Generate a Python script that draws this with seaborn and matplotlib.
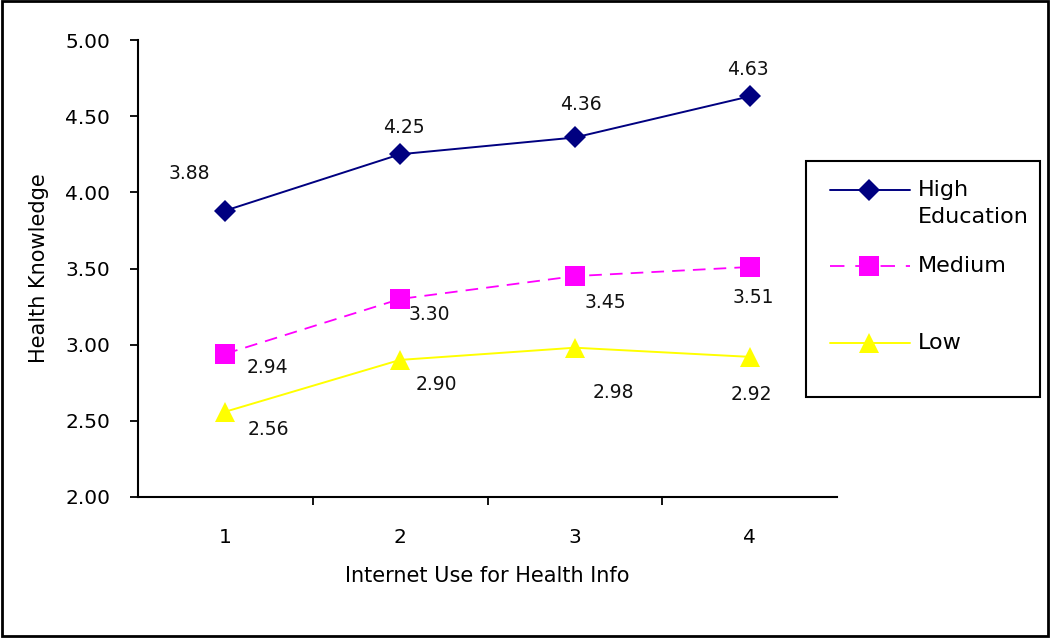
import matplotlib
matplotlib.use("Agg")
import matplotlib.pyplot as plt
import seaborn as sns
import pandas as pd
from matplotlib.lines import Line2D
from matplotlib.patches import Rectangle

categories = ["1", "2", "3", "4"]
high = [3.88, 4.25, 4.36, 4.63]
medium = [2.94, 3.30, 3.45, 3.51]
low = [2.56, 2.90, 2.98, 2.92]
series_names = ["High\nEducation", "Medium", "Low"]
y_ticks = [2.00, 2.50, 3.00, 3.50, 4.00, 4.50, 5.00]

sns.set_theme(style="white")
plt.rcParams['font.family'] = ['DejaVu Sans']
plt.rcParams['text.color'] = 'black'
plt.rcParams['axes.labelcolor'] = 'black'
plt.rcParams['xtick.color'] = 'black'
plt.rcParams['ytick.color'] = 'black'

fig = plt.figure(figsize=(10.5, 6.39), dpi=100)
ax = fig.add_axes([138/1050, (639-497)/639, (837-138)/1050, (497-40)/639])

rows = []
for name, vals in zip(series_names, [high, medium, low]):
    for i, v in enumerate(vals):
        rows.append({"series": name, "x": i, "y": v})
df = pd.DataFrame(rows)

styles = {
    "High\nEducation": dict(color="#000080", marker="D", ms=11, dashes=None, lw=1.4),
    "Medium": dict(color="#FF00FF", marker="s", ms=14, dashes=(7, 4.5), lw=1.3),
    "Low": dict(color="#FFFF00", marker="^", ms=15, dashes=None, lw=1.4),
}
for name in series_names:
    st = styles[name]
    sub = df[df["series"] == name]
    sns.lineplot(data=sub, x="x", y="y", ax=ax, color=st["color"], marker=st["marker"],
                 markersize=st["ms"], markeredgewidth=0, linewidth=st["lw"], legend=False)
    if st["dashes"]:
        ax.lines[-1].set_dashes(st["dashes"])

# data labels (offsets in points)
off_high = [(-26, 27), (3, 19), (4, 24), (-1, 19)]
off_med = [(30, -10), (21, -11), (22, -19), (3, -22)]
off_low = [(31, -13), (26, -18), (28, -32), (1, -27)]
for vals, offs in [(high, off_high), (medium, off_med), (low, off_low)]:
    for i, (v, o) in enumerate(zip(vals, offs)):
        ax.annotate(f"{v:.2f}", (i, v), xytext=o, textcoords="offset points",
                    ha="center", va="center", fontsize=13.5, color="#111111")

ax.set_xlim(-0.5, 3.5)
ax.set_ylim(2.0, 5.0)
ax.set_yticks(y_ticks)
ax.set_yticklabels([f"{t:.2f}" for t in y_ticks], fontsize=14.5)
ax.set_xticks([0.5, 1.5, 2.5])
ax.set_xticklabels([])
ax.set_xticks([0, 1, 2, 3], minor=True)
ax.set_xticklabels(categories, minor=True, fontsize=14.5)
ax.tick_params(axis="x", which="major", direction="out", length=6, width=1.3, color="black", bottom=True)
ax.tick_params(axis="x", which="minor", length=0, pad=22, bottom=True)
ax.tick_params(axis="y", direction="out", length=6, width=1.3, color="black", left=True, pad=14)
for s in ["top", "right"]:
    ax.spines[s].set_visible(False)
for s in ["left", "bottom"]:
    ax.spines[s].set_color("black")
    ax.spines[s].set_linewidth(1.5)
ax.set_xlabel("Internet Use for Health Info", fontsize=15, labelpad=14)
ax.set_ylabel("Health Knowledge", fontsize=15, labelpad=12)
ax.set_facecolor("white")

# manual legend (figure pixel coordinates -> fraction)
W, H = 1050, 639
def fx(px): return px / W
def fy(py): return 1 - py / H

fig.patches.append(Rectangle((fx(806), fy(397)), fx(1040) - fx(806), fy(161) - fy(397),
                             transform=fig.transFigure, fill=False, edgecolor="black", linewidth=1.5))
legend_rows = [190, 266, 343]
for name, yrow in zip(series_names, legend_rows):
    st = styles[name]
    ln = Line2D([fx(830), fx(910)], [fy(yrow), fy(yrow)], transform=fig.transFigure,
                color=st["color"], linewidth=st["lw"])
    if st["dashes"]:
        ln.set_dashes((8, 6))
    fig.lines.append(ln)
    mk = Line2D([fx(869)], [fy(yrow)], transform=fig.transFigure, color=st["color"],
                marker=st["marker"], markersize=st["ms"], markeredgewidth=0, linestyle="none")
    fig.lines.append(mk)
    if "\n" not in name:
        fig.text(fx(918), fy(yrow), name, ha="left", va="center", fontsize=16, color="black")
fig.text(fx(918), fy(190), "High", ha="left", va="center", fontsize=16, color="black")
fig.text(fx(918), fy(217), "Education", ha="left", va="center", fontsize=16, color="black")

fig.patches.append(Rectangle((0.002, 0.004), 0.996, 0.994, transform=fig.transFigure,
                             fill=False, edgecolor="black", linewidth=2))

fig.savefig("out.png", dpi=100, facecolor="white")
